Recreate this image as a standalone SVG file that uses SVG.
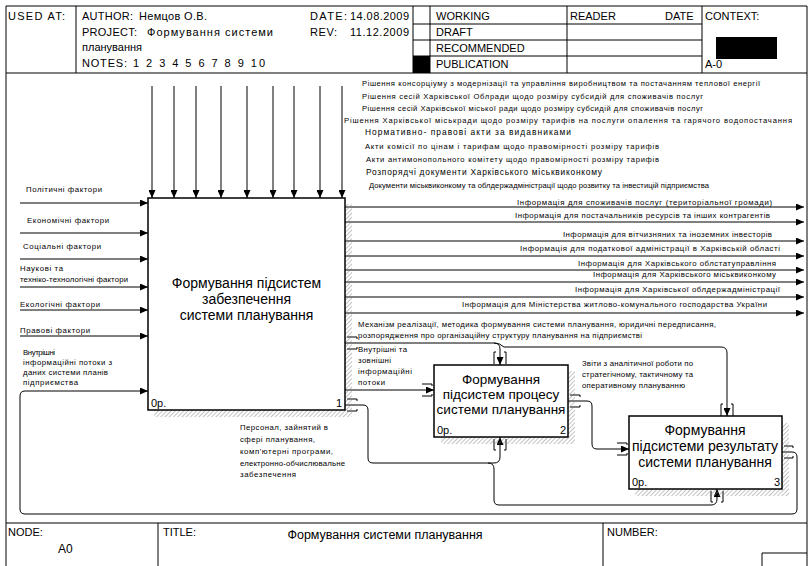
<svg xmlns="http://www.w3.org/2000/svg" width="812" height="566" viewBox="0 0 812 566">
<defs>
<style>
.ln{stroke:#000;stroke-width:1;fill:none}
.ar{stroke:#000;stroke-width:1;fill:none;marker-end:url(#ah)}
.box{fill:#fff;stroke:#000;stroke-width:1.5}
.sh{fill:url(#hatch)}
text{font-family:"Liberation Sans",Arial,sans-serif;fill:#000}
.h{font-size:11px}
.s{font-size:7.6px}
.s2{font-size:8.4px}
.l{font-size:7.8px}
.b{font-size:14px}
.b2{font-size:13.5px}
.n{font-size:11px}
</style>
<marker id="ah" markerUnits="userSpaceOnUse" markerWidth="9" markerHeight="7" refX="8" refY="3.5" orient="auto"><path d="M0,0 L8,3.5 L0,7 z" fill="#000"/></marker>
<pattern id="hatch" width="3" height="3" patternUnits="userSpaceOnUse" patternTransform="rotate(45)"><line x1="0" y1="0" x2="0" y2="3" stroke="#777" stroke-width="0.9"/></pattern>
</defs>
<rect x="0" y="0" width="812" height="566" fill="#fff"/>

<g id="frame">
<path class="ln" d="M6,566 V6 H807 V566"/>
<path class="ln" d="M6,73 H807 M6,523 H807"/>
<path class="ln" d="M76,6 V73 M413,6 V73 M430,6 V73 M567,6 V73 M702,6 V73"/>
<path class="ln" d="M413,24 H702 M413,40 H702 M413,56 H702"/>
<rect x="413" y="56" width="17" height="17" fill="#000"/>
<rect x="716" y="37" width="61" height="22" fill="#000"/>
<text class="h" x="8" y="20" textLength="57" lengthAdjust="spacing">USED AT:</text>
<text class="h" x="82" y="20" textLength="51" lengthAdjust="spacing">AUTHOR:</text>
<text class="h" x="139" y="20" textLength="68" lengthAdjust="spacing">Немцов О.В.</text>
<text class="h" x="82" y="36" textLength="55" lengthAdjust="spacing">PROJECT:</text>
<text class="h" x="147" y="36" textLength="126" lengthAdjust="spacing">Формування системи</text>
<text class="h" x="82" y="51">планування</text>
<text class="h" x="82" y="67" textLength="45" lengthAdjust="spacing">NOTES:</text>
<text class="h" x="133" y="67" textLength="132" lengthAdjust="spacing">1 2 3 4 5 6 7 8 9 10</text>
<text class="h" x="310" y="20" textLength="37" lengthAdjust="spacing">DATE:</text>
<text class="h" x="350" y="20" textLength="59" lengthAdjust="spacing">14.08.2009</text>
<text class="h" x="310" y="36" textLength="27" lengthAdjust="spacing">REV:</text>
<text class="h" x="350" y="36" textLength="59" lengthAdjust="spacing">11.12.2009</text>
<text class="h" x="436" y="20">WORKING</text>
<text class="h" x="436" y="36">DRAFT</text>
<text class="h" x="436" y="52">RECOMMENDED</text>
<text class="h" x="436" y="68">PUBLICATION</text>
<text class="h" x="570" y="20">READER</text>
<text class="h" x="665" y="20">DATE</text>
<text class="h" x="705" y="20">CONTEXT:</text>
<text class="h" x="705" y="68">A-0</text>
<path class="ln" d="M158,523 V566 M603,523 V566 M762,566 V553 H807"/>
<text class="h" x="8" y="536">NODE:</text>
<text x="58" y="553" font-size="12">A0</text>
<text class="h" x="163" y="536">TITLE:</text>
<text x="385" y="539" font-size="12.5" text-anchor="middle">Формування системи планування</text>
<text class="h" x="607" y="536">NUMBER:</text>
</g>

<g id="connectors">
<path class="ar" d="M152,86 V198"/>
<path class="ar" d="M174,86 V198"/>
<path class="ar" d="M196,86 V198"/>
<path class="ar" d="M221,86 V198"/>
<path class="ar" d="M247,86 V198"/>
<path class="ar" d="M273,86 V198"/>
<path class="ar" d="M294,86 V198"/>
<path class="ar" d="M320,86 V198"/>
<path class="ar" d="M342,86 V198"/>
<path class="ar" d="M20,203 H148"/>
<path class="ar" d="M20,233 H148"/>
<path class="ar" d="M20,259 H148"/>
<path class="ar" d="M20,287 H148"/>
<path class="ar" d="M20,310 H148"/>
<path class="ar" d="M20,336 H148"/>
<path class="ar" d="M345,207 H804"/>
<path class="ar" d="M345,222 H804"/>
<path class="ar" d="M345,241 H804"/>
<path class="ar" d="M345,256 H804"/>
<path class="ar" d="M345,270 H804"/>
<path class="ar" d="M345,282 H804"/>
<path class="ar" d="M345,297 H804"/>
<path class="ar" d="M345,313 H804"/>
<path class="ar" d="M345,343 H494 Q500,343 500,349 V365"/>
<path class="ar" d="M494,343 Q500,343 504,347 H721 Q727,347 727,353 V416"/>
<path class="ar" d="M345,390 H434"/>
<path class="ar" d="M568,401 H587 Q592,401 592,406 V444 Q592,449 597,449 H629"/>
<path class="ar" d="M345,405 H363 Q368,405 368,410 V458 Q368,463 373,463 H494 Q500,463 500,457 V437"/>
<path class="ar" d="M488,463 Q494,463 494,469 V500 Q494,505 499,505 H711 Q717,505 717,499 V489"/>
<path class="ar" d="M782,452 H792 Q797,452 797,457 V509 Q797,514 792,514 H25 Q20,514 20,509 V396 Q20,391 25,391 H148"/>
<path class="ln" d="M494,364 V352 H496 M506,364 V352 H504"/>
<path class="ln" d="M494,439 V450 H496 M506,439 V450 H504"/>
<path class="ln" d="M721,416 V404 H723 M733,416 V404 H731"/>
<path class="ln" d="M711,491 V502 H713 M723,491 V502 H721"/>
<path class="ln" d="M422,384 H432 V386 M422,396 H432 V394"/>
<path class="ln" d="M617,443 H627 V445 M617,455 H627 V453"/>
<path class="ln" d="M347,399 H357 V401 M347,411 H357 V409"/>
<path class="ln" d="M347,337 H357 V339 M347,349 H357 V347"/>
<path class="ln" d="M570,395 H580 V397 M570,407 H580 V405"/>
<path class="ln" d="M784,446 H793 V448 M784,458 H793 V456"/>
</g>

<g id="control-labels">
<text class="s" x="362" y="85.5" textLength="398" lengthAdjust="spacing">Рішення консорціуму з модернізації та управління виробництвом та постачанням теплової енергії</text>
<text class="s" x="362" y="98.5" textLength="341" lengthAdjust="spacing">Рішення сесій Харківської Облради щодо розміру субсидій для споживачів послуг</text>
<text class="s" x="362" y="110.5" textLength="341" lengthAdjust="spacing">Рішення сесій Харківської міської ради щодо розміру субсидій для споживачів послуг</text>
<text class="s" x="344" y="122.5" textLength="448" lengthAdjust="spacing">Рішення Харківської міськради щодо розміру тарифів на послуги опалення та гарячого водопостачання</text>
<text class="s2" x="365" y="134.5" textLength="206" lengthAdjust="spacing">Нормативно- правові акти за видавниками</text>
<text class="s" x="365" y="148.5" textLength="294" lengthAdjust="spacing">Акти комісії по цінам і тарифам щодо правомірності розміру тарифів</text>
<text class="s" x="366" y="161.5" textLength="293" lengthAdjust="spacing">Акти антимонопольного комітету щодо правомірності розміру тарифів</text>
<text class="s2" x="366" y="174.5" textLength="236" lengthAdjust="spacing">Розпорядчі документи Харківського міськвиконкому</text>
<text class="s" x="369" y="187.5" textLength="340" lengthAdjust="spacing">Документи міськвиконкому та облдержадміністрації щодо розвитку та інвестицій підприємства</text>
</g>

<g id="output-labels">
<text class="l" x="517" y="205" textLength="255" lengthAdjust="spacing">Інформація для споживачів послуг (територіальної громади)</text>
<text class="l" x="515" y="218" textLength="255" lengthAdjust="spacing">Інформація для постачальників ресурсів та інших контрагентів</text>
<text class="l" x="563" y="237" textLength="209" lengthAdjust="spacing">Інформація для вітчизняних та іноземних інвесторів</text>
<text class="l" x="520" y="251" textLength="260" lengthAdjust="spacing">Інформація для податкової адміністрації в Харківській області</text>
<text class="l" x="578" y="266" textLength="198" lengthAdjust="spacing">Інформація для Харківського облстатуправління</text>
<text class="l" x="593" y="277" textLength="183" lengthAdjust="spacing">Інформація для Харківського міськвиконкому</text>
<text class="l" x="575" y="292" textLength="205" lengthAdjust="spacing">Інформація для Харківської облдержадміністрації</text>
<text class="l" x="462" y="307" textLength="305" lengthAdjust="spacing">Інформація для Міністерства житлово-комунального господарства України</text>
<text class="l" x="358" y="327" textLength="358" lengthAdjust="spacing">Механізм реалізації, методика формування системи планування, юридичні передписання,</text>
<text class="l" x="358" y="338" textLength="284" lengthAdjust="spacing">розпорядження про організаційну структуру планування на підприємстві</text>
</g>

<g id="input-labels">
<text class="l" x="26" y="192" textLength="76" lengthAdjust="spacing">Політичні фактори</text>
<text class="l" x="27" y="223" textLength="82" lengthAdjust="spacing">Економічні фактори</text>
<text class="l" x="23" y="249" textLength="78" lengthAdjust="spacing">Соціальні фактори</text>
<text class="l" x="20" y="271" textLength="43" lengthAdjust="spacing">Наукові та</text>
<text class="l" x="20" y="282" textLength="108" lengthAdjust="spacing">техніко-технологічні фактори</text>
<text class="l" x="20" y="307" textLength="80" lengthAdjust="spacing">Екологічні фактори</text>
<text class="l" x="20" y="333" textLength="70" lengthAdjust="spacing">Правові фактори</text>
<text class="l" x="23" y="355" textLength="32" lengthAdjust="spacing">Внутрішні</text>
<text class="l" x="23" y="365" textLength="89" lengthAdjust="spacing">інформаційні потоки з</text>
<text class="l" x="23" y="375" textLength="85" lengthAdjust="spacing">даних системи планів</text>
<text class="l" x="23" y="385" textLength="55" lengthAdjust="spacing">підприємства</text>
</g>

<g id="inner-labels">
<text class="l" x="358" y="352" textLength="49" lengthAdjust="spacing">Внутрішні та</text>
<text class="l" x="358" y="363" textLength="33" lengthAdjust="spacing">зовнішні</text>
<text class="l" x="358" y="374" textLength="54" lengthAdjust="spacing">інформаційні</text>
<text class="l" x="358" y="385" textLength="27" lengthAdjust="spacing">потоки</text>
<text class="l" x="582" y="366" textLength="111" lengthAdjust="spacing">Звіти з аналітичної роботи по</text>
<text class="l" x="582" y="377" textLength="111" lengthAdjust="spacing">стратегічному, тактичному та</text>
<text class="l" x="582" y="388" textLength="103" lengthAdjust="spacing">оперативному плануванню</text>
<text class="l" x="240" y="430" textLength="88" lengthAdjust="spacing">Персонал, зайнятий в</text>
<text class="l" x="240" y="442" textLength="75" lengthAdjust="spacing">сфері планування,</text>
<text class="l" x="240" y="454" textLength="93" lengthAdjust="spacing">комп'ютерні програми,</text>
<text class="l" x="240" y="466" textLength="105" lengthAdjust="spacing">електронно-обчислювальне</text>
<text class="l" x="240" y="477" textLength="56" lengthAdjust="spacing">забезпечення</text>
</g>

<g id="node-A1">
<rect class="sh" x="345" y="204" width="7" height="213"/>
<rect class="sh" x="154" y="410" width="191" height="7"/>
<rect class="box" x="148" y="198" width="197" height="212"/>
<text class="b" x="246.5" y="288" text-anchor="middle">Формування підсистем</text>
<text class="b" x="246.5" y="304" text-anchor="middle">забезпечення</text>
<text class="b" x="246.5" y="320" text-anchor="middle">системи планування</text>
<text class="n" x="151" y="407">0р.</text>
<text class="n" x="336" y="407">1</text>
</g>

<g id="node-A2">
<rect class="sh" x="568" y="371" width="7" height="73"/>
<rect class="sh" x="441" y="437" width="127" height="7"/>
<rect class="box" x="434" y="365" width="134" height="72"/>
<text class="b2" x="501" y="384" text-anchor="middle">Формування</text>
<text class="b2" x="501" y="399" text-anchor="middle">підсистем процесу</text>
<text class="b2" x="501" y="414" text-anchor="middle">системи планування</text>
<text class="n" x="437" y="434">0р.</text>
<text class="n" x="560" y="434">2</text>
</g>

<g id="node-A3">
<rect class="sh" x="782" y="423" width="7" height="73"/>
<rect class="sh" x="635" y="489" width="147" height="7"/>
<rect class="box" x="629" y="416" width="153" height="73"/>
<text class="b" x="705" y="435" text-anchor="middle">Формування</text>
<text class="b" x="705" y="451" text-anchor="middle">підсистеми результату</text>
<text class="b" x="705" y="467" text-anchor="middle">системи планування</text>
<text class="n" x="632" y="486">0р.</text>
<text class="n" x="774" y="486">3</text>
</g>
</svg>
